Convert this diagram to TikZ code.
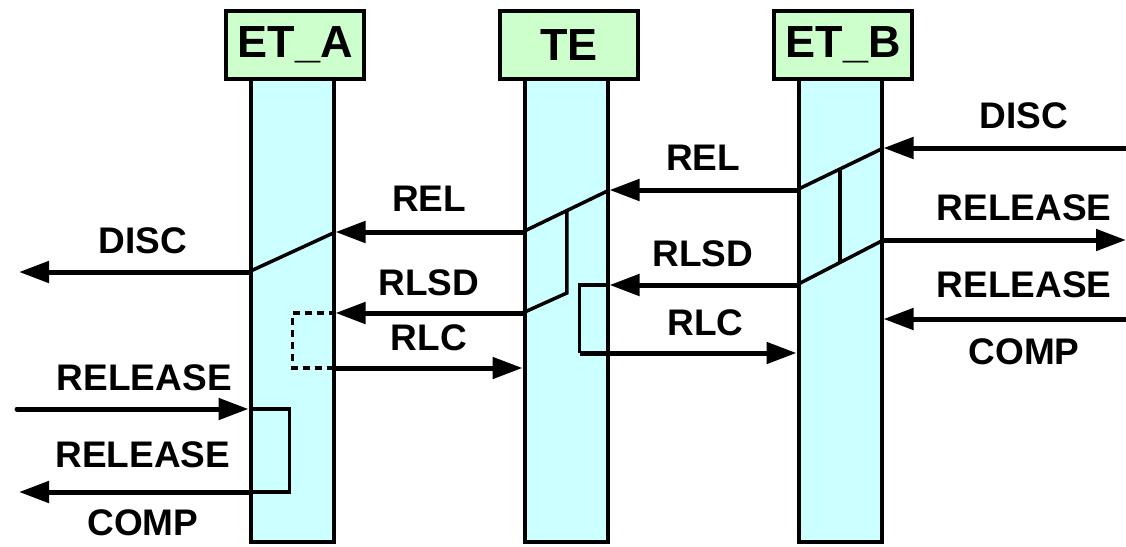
\documentclass[tikz,border=0pt]{standalone}
\usepackage{fontspec}
\setmainfont{Liberation Sans}
\usetikzlibrary{positioning,arrows.meta,calc}

\definecolor{headgreen}{HTML}{CCFFCC}
\definecolor{lifecyan}{HTML}{CCFFFF}

\begin{document}
\begin{tikzpicture}
	[x=1pt,y=-1pt,
	head/.style={rectangle,draw=black,fill=headgreen,line width=4pt,inner sep=0pt,minimum width=138pt,minimum height=68pt,font=\fontsize{45}{45}\selectfont\bfseries},
	life/.style={rectangle,draw=black,fill=lifecyan,line width=4pt,inner sep=0pt,minimum width=83pt,minimum height=463pt,xshift=-3pt},
	msg/.style={line width=5pt,-{Triangle[length=30pt,width=21pt]}},
	slant/.style={line width=3.5pt},
	lbl/.style={inner sep=0pt,font=\fontsize{37}{37}\selectfont\bfseries}]
	\useasboundingbox (0,0) rectangle (1126,546);

	\node [head] (hA) at (295,45) {ET\_A};
	\node [head] (hT) [right=132pt of hA] {TE};
	\node [head] (hB) [right=132pt of hT] {ET\_B};

	\node [life] (lA) [below=-4pt of hA] {};
	\node [life] (lT) [below=-4pt of hT] {};
	\node [life] (lB) [below=-4pt of hB] {};

	\coordinate (bR1) at (lB.east |- 0,148);
	\coordinate (bL1) at (lB.west |- 0,190);
	\coordinate (bR2) at (lB.east |- 0,240);
	\coordinate (bL2) at (lB.west |- 0,285);
	\coordinate (bR3) at (lB.east |- 0,319);
	\coordinate (bL3) at (lB.west |- 0,353);
	\coordinate (tR1) at (lT.east |- 0,190);
	\coordinate (tL1) at (lT.west |- 0,232);
	\coordinate (tR2) at (lT.east |- 0,285);
	\coordinate (tL2) at (lT.west |- 0,313);
	\coordinate (tL3) at (lT.west |- 0,368);
	\coordinate (aR1) at (lA.east |- 0,232);
	\coordinate (aL1) at (lA.west |- 0,272);
	\coordinate (aR2) at (lA.east |- 0,313);
	\coordinate (aR3) at (lA.east |- 0,368);
	\coordinate (aL2) at (lA.west |- 0,409);
	\coordinate (aL3) at (lA.west |- 0,492);
	\coordinate (eB1) at (1126,148);
	\coordinate (eB2) at (1126,240);
	\coordinate (eB3) at (1126,319);
	\coordinate (eA1) at (19,272);
	\coordinate (eA2) at (17,409);
	\coordinate (eA3) at (19,492);

	\draw [slant] (bR1) -- (bL1);
	\draw [slant] (bR2) -- (bL2);
	\draw [slant] ($(bR1)!.5!(bL1)$) -- ($(bR2)!.5!(bL2)$);
	\draw [slant] (tR1) -- (tL1);
	\draw [slant] ($(tR1)!.49!(tL1)$) coordinate (tV) -- (tV |- 0,293) -- (tL2);
	\draw [slant] (tR2) -- ++(-30,0) coordinate (tC) -- (tC |- bL3) coordinate (tD);
	\draw [slant] (aR1) -- (aL1);
	\draw [slant, dash pattern=on 7pt off 5pt] (aR2) -- ++(-43,0) |- (aR3);
	\draw [slant] (aL2) -- ++(41,0) |- (aL3);

	\draw [msg] (eB1) -- (bR1) node [lbl, pos=.42, above=17pt] {DISC};
	\draw [msg] (bL1) -- (tR1) node [lbl, midway, above=17pt] {REL};
	\draw [msg] (bR2) -- (eB2) node [lbl, pos=.58, above=17pt] {RELEASE};
	\draw [msg] (bL2) -- (tR2) node [lbl, midway, above=16pt] {RLSD};
	\draw [msg] (eB3) -- (bR3) node [lbl, pos=.42, above=19pt] {RELEASE} node [lbl, pos=.42, below=17pt] {COMP};
	\draw [msg] (tD) -- (bL3) node [lbl, pos=.58, above=15pt] {RLC};
	\draw [msg] (tL1) -- (aR1) node [lbl, midway, above=18pt] {REL};
	\draw [msg] (aL1) -- (eA1) node [lbl, pos=.46, above=16pt] {DISC};
	\draw [msg] (tL2) -- (aR2) node [lbl, midway, above=15pt] {RLSD};
	\draw [msg] (aR3) -- (tL3) node [lbl, midway, above=15pt] {RLC};
	\draw [msg, line cap=round] (eA2) -- (aL2) node [lbl, pos=.55, above=16pt] {RELEASE};
	\draw [msg] (aL3) -- (eA3) node [lbl, pos=.46, above=22pt] {RELEASE} node [lbl, pos=.46, below=15pt] {COMP};

\end{tikzpicture}
\end{document}
